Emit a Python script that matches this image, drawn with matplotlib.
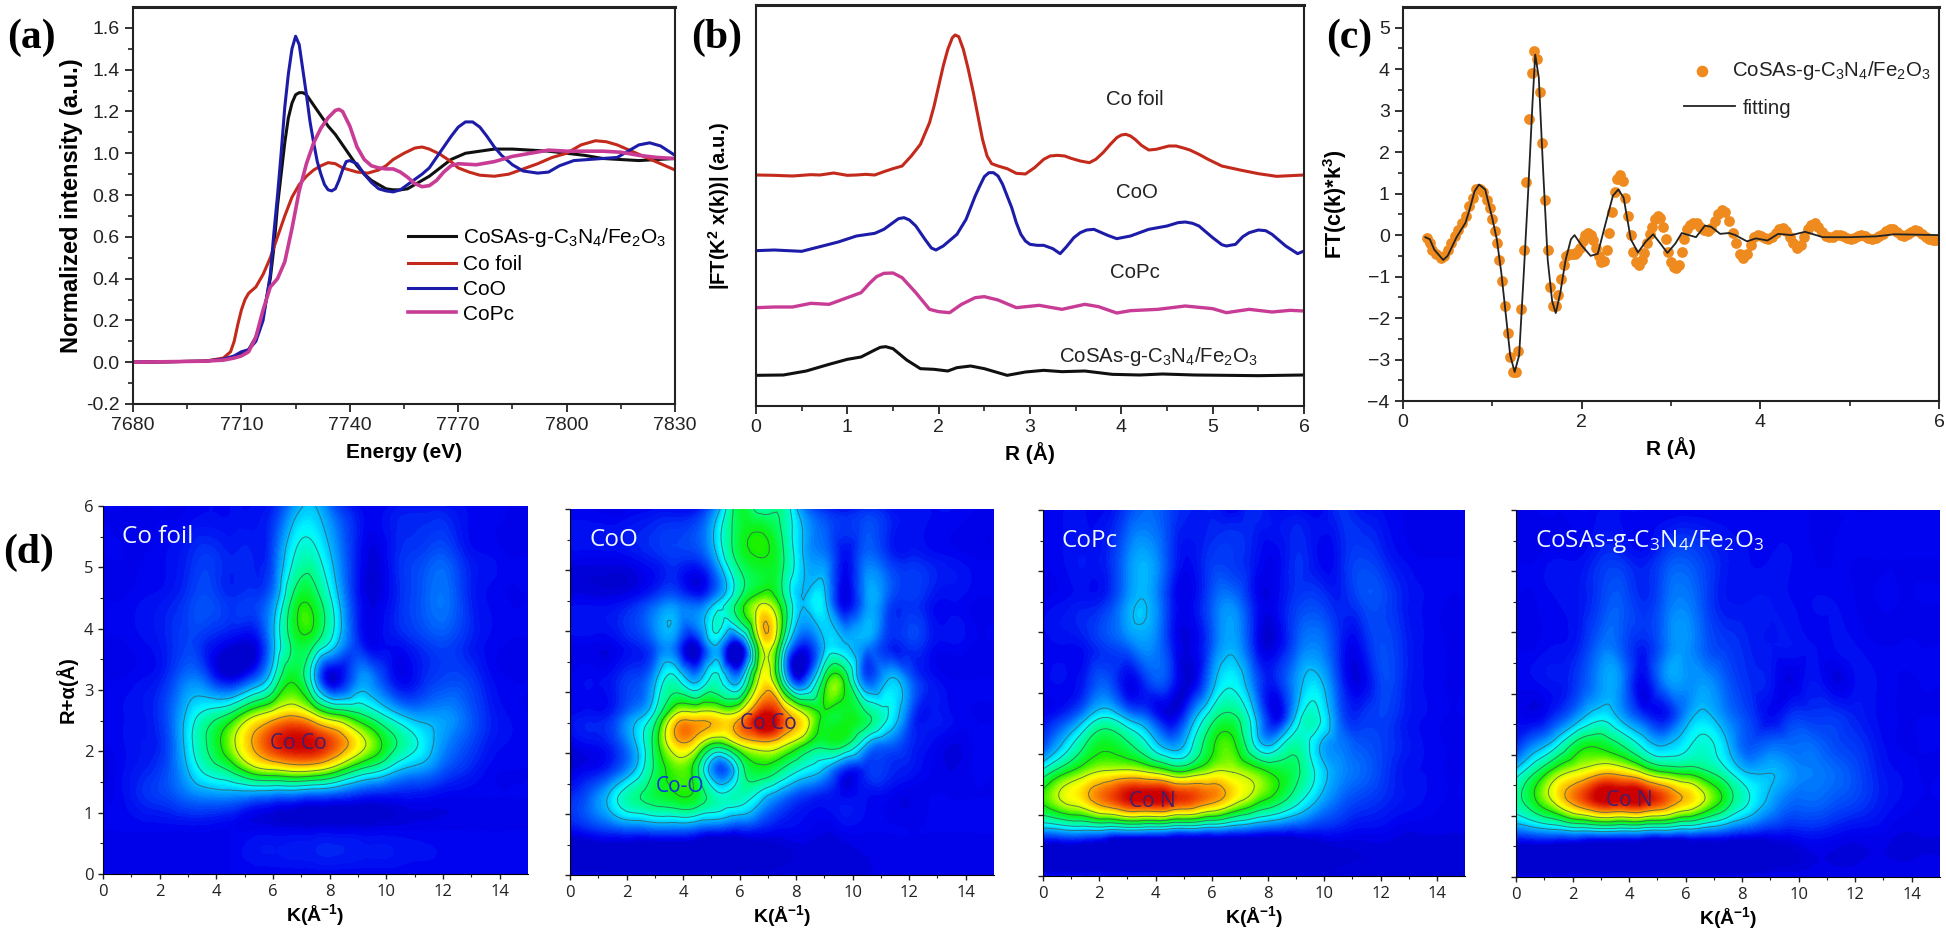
import numpy as np
import matplotlib
matplotlib.use('Agg')
import matplotlib.pyplot as plt
import matplotlib.tri as mtri
from matplotlib.colors import LinearSegmentedColormap

plt.rcParams['font.family'] = ['Liberation Sans', 'DejaVu Sans']
plt.rcParams['mathtext.default'] = 'regular'

SAMPLE = 'CoSAs-g-C$_3$N$_4$/Fe$_2$O$_3$'

# panel a
a_black_x = [7680,7700,7705,7708,7710,7712,7714,7716,7718,7719,7720,7721,7722,7723,7724,7725,7726,7727,7728,7730,7732,7734,7736,7738,7740,7742,7744,7746,7748,7750,7752,7754,7756,7758,7760,7762,7765,7768,7772,7776,7780,7785,7790,7795,7800,7805,7810,7815,7820,7825,7830]
a_black_y = [0,.005,.015,.025,.04,.06,.12,.22,.40,.55,.75,.9,1.05,1.17,1.24,1.28,1.29,1.29,1.28,1.23,1.18,1.13,1.09,1.04,.99,.94,.90,.87,.85,.83,.825,.825,.83,.85,.87,.89,.93,.97,1.0,1.01,1.02,1.02,1.015,1.01,1.0,.99,.975,.97,.965,.97,.975]
a_red_x = [7680,7700,7705,7707,7708,7709,7710,7711,7712,7714,7716,7718,7720,7722,7724,7726,7728,7730,7732,7734,7736,7738,7740,7742,7745,7748,7750,7752,7755,7758,7760,7762,7765,7768,7770,7773,7776,7780,7784,7788,7792,7796,7800,7804,7808,7811,7814,7818,7822,7826,7830]
a_red_y = [0,.005,.02,.05,.10,.18,.25,.30,.33,.36,.42,.50,.60,.70,.79,.85,.89,.92,.94,.955,.95,.93,.92,.91,.905,.92,.94,.97,1.0,1.025,1.03,1.02,.995,.96,.93,.91,.895,.89,.90,.925,.95,.98,1.0,1.04,1.06,1.055,1.04,1.01,.98,.95,.92]
a_blue_x = [7680,7700,7705,7708,7710,7712,7714,7716,7718,7719,7720,7721,7722,7723,7724,7725,7726,7727,7728,7729,7730,7731,7732,7733,7734,7735,7736,7737,7738,7739,7740,7742,7744,7746,7748,7750,7752,7754,7756,7758,7760,7762,7764,7766,7768,7770,7772,7774,7776,7778,7780,7782,7785,7788,7792,7795,7798,7802,7806,7810,7814,7817,7820,7823,7826,7830]
a_blue_y = [0,.005,.015,.03,.05,.06,.10,.20,.42,.62,.80,1.0,1.22,1.38,1.50,1.56,1.52,1.40,1.28,1.15,1.05,.96,.90,.85,.825,.82,.83,.87,.92,.96,.965,.95,.90,.86,.83,.82,.815,.825,.85,.875,.90,.93,.98,1.03,1.08,1.125,1.15,1.15,1.125,1.08,1.03,.99,.945,.915,.905,.91,.94,.965,.97,.975,.98,1.01,1.04,1.05,1.035,.99]
a_pink_x = [7680,7700,7705,7708,7710,7712,7714,7716,7718,7720,7722,7724,7726,7728,7730,7732,7734,7736,7737,7738,7740,7742,7744,7746,7748,7750,7752,7754,7756,7758,7760,7762,7764,7766,7768,7770,7775,7780,7785,7790,7795,7800,7805,7810,7815,7820,7825,7830]
a_pink_y = [0,.005,.01,.02,.03,.05,.12,.25,.36,.40,.48,.64,.82,.95,1.05,1.12,1.17,1.205,1.21,1.20,1.13,1.03,.97,.94,.93,.925,.925,.91,.885,.855,.84,.845,.87,.91,.94,.95,.945,.96,.985,1.0,1.015,1.01,1.01,1.01,1.005,.99,.98,.975]

# panel b (offset curves, arbitrary units)
b_red_x = [0,.2,.4,.6,.7,.85,1.0,1.1,1.2,1.3,1.4,1.5,1.6,1.7,1.8,1.9,1.95,2.0,2.05,2.1,2.15,2.18,2.22,2.27,2.32,2.38,2.43,2.48,2.53,2.58,2.65,2.75,2.85,2.95,3.05,3.15,3.22,3.3,3.38,3.45,3.55,3.65,3.72,3.8,3.88,3.95,4.0,4.05,4.1,4.15,4.22,4.3,4.38,4.45,4.52,4.6,4.68,4.75,4.85,4.95,5.1,5.3,5.5,5.7,6.0]
b_red_y = [6.93,6.92,6.90,6.94,6.93,6.99,6.92,6.93,6.95,6.93,7.03,7.12,7.2,7.5,7.85,8.5,9.0,9.6,10.2,10.7,11.05,11.13,11.08,10.7,10.15,9.4,8.7,8.0,7.5,7.27,7.2,7.12,6.98,6.96,7.15,7.4,7.5,7.52,7.5,7.43,7.35,7.3,7.4,7.6,7.85,8.05,8.13,8.15,8.1,8.0,7.82,7.68,7.7,7.75,7.8,7.8,7.74,7.68,7.55,7.4,7.2,7.08,6.97,6.89,6.93]
b_blue_x = [0,.2,.5,.7,.9,1.1,1.3,1.4,1.5,1.56,1.62,1.68,1.75,1.85,1.92,1.97,2.05,2.2,2.3,2.35,2.4,2.45,2.5,2.55,2.6,2.65,2.7,2.75,2.8,2.85,2.9,2.95,3.0,3.08,3.15,3.25,3.33,3.4,3.48,3.55,3.62,3.7,3.85,3.95,4.1,4.3,4.5,4.62,4.7,4.78,4.85,5.0,5.1,5.15,5.25,5.33,5.4,5.5,5.58,5.65,5.8,5.93,6.0]
b_blue_y = [4.66,4.68,4.64,4.78,4.92,5.1,5.18,5.3,5.5,5.62,5.65,5.58,5.4,5.0,4.74,4.68,4.8,5.15,5.6,5.95,6.3,6.6,6.88,7.0,7.0,6.9,6.65,6.3,5.95,5.5,5.15,4.95,4.85,4.82,4.82,4.72,4.57,4.78,5.05,5.2,5.28,5.3,5.12,5.02,5.1,5.3,5.4,5.5,5.52,5.48,5.4,5.05,4.84,4.8,4.85,5.08,5.2,5.28,5.26,5.15,4.8,4.57,4.65]
b_pink_x = [0,.2,.4,.6,.8,1.0,1.15,1.25,1.32,1.4,1.5,1.6,1.75,1.9,2.0,2.12,2.25,2.4,2.5,2.65,2.85,3.1,3.35,3.6,3.75,3.95,4.1,4.4,4.7,5.0,5.15,5.4,5.65,5.85,6.0]
b_pink_y = [2.95,2.97,2.97,3.08,3.05,3.25,3.4,3.7,3.88,3.98,3.99,3.85,3.4,2.9,2.83,2.8,3.05,3.25,3.28,3.18,2.95,3.02,2.9,3.05,2.98,2.79,2.86,2.9,3.0,2.92,2.8,2.9,2.82,2.87,2.85]
b_black_x = [0,.3,.55,.8,1.0,1.15,1.3,1.36,1.42,1.5,1.65,1.8,1.95,2.1,2.2,2.35,2.5,2.75,2.95,3.15,3.35,3.6,3.9,4.2,4.45,4.8,5.5,6.0]
b_black_y = [.92,.93,1.05,1.25,1.4,1.47,1.68,1.76,1.78,1.72,1.38,1.12,1.1,1.05,1.15,1.2,1.12,.92,1.02,1.07,1.03,1.05,.95,.93,.96,.93,.91,.93]

# panel c
c_dots_x = [.27,.3,.33,.37,.42,.46,.5,.54,.58,.62,.66,.7,.74,.78,.82,.86,.9,.94,.97,1.0,1.03,1.05,1.08,1.11,1.14,1.17,1.2,1.23,1.26,1.29,1.32,1.35,1.38,1.41,1.44,1.47,1.5,1.53,1.56,1.59,1.62,1.65,1.68,1.71,1.74,1.77,1.8,1.83,1.86,1.89,1.92,1.95,1.98,2.01,2.04,2.07,2.1,2.13,2.16,2.19,2.22,2.25,2.28,2.31,2.34,2.37,2.4,2.43,2.46,2.49,2.52,2.55,2.58,2.61,2.64,2.67,2.7,2.73,2.76,2.79,2.82,2.85,2.88,2.91,2.94,2.97,3.0,3.03,3.06,3.09,3.12,3.15,3.18,3.21,3.25,3.29,3.33,3.37,3.41,3.45,3.49,3.53,3.57,3.61,3.65,3.69,3.73,3.77,3.81,3.85,3.89,3.93,3.97,4.01,4.05,4.09,4.13,4.17,4.21,4.25,4.29,4.33,4.37,4.41,4.45,4.49,4.53,4.57,4.61,4.65,4.69,4.73,4.77,4.81,4.85,4.89,4.93,4.97,5.01,5.05,5.09,5.13,5.17,5.21,5.25,5.29,5.33,5.37,5.41,5.45,5.49,5.53,5.57,5.61,5.65,5.69,5.73,5.77,5.81,5.85,5.89,5.93,5.97,6.0]
c_dots_y = [-.08,-.2,-.35,-.45,-.55,-.5,-.35,-.2,-.02,.12,.3,.45,.7,.9,1.1,1.12,1.05,.85,.65,.4,.1,-.2,-.6,-1.1,-1.7,-2.35,-2.95,-3.3,-3.3,-2.8,-1.78,-.35,1.28,2.8,3.92,4.45,4.25,3.45,2.22,.85,-.37,-1.25,-1.7,-1.72,-1.45,-1.05,-.72,-.5,-.45,-.45,-.45,-.4,-.3,-.15,0,.05,0,-.12,-.3,-.5,-.65,-.62,-.35,.05,.55,1.05,1.35,1.45,1.3,.9,.45,0,-.4,-.65,-.72,-.6,-.42,-.2,.02,.2,.38,.45,.42,.2,-.1,-.4,-.65,-.78,-.8,-.72,-.4,-.1,.15,.25,.3,.28,.2,.12,.1,.18,.35,.5,.6,.55,.35,.05,-.2,-.45,-.55,-.45,-.25,-.05,0,-.02,-.08,-.1,-.05,.05,.15,.18,.1,-.05,-.2,-.3,-.25,-.05,.15,.25,.28,.2,.08,-.02,-.05,-.05,0,.0,-.03,-.08,-.1,-.08,-.02,.0,-.02,-.07,-.1,-.08,-.03,.03,.1,.15,.14,.08,.0,-.02,.02,.08,.12,.1,.03,-.05,-.1,-.12,-.12,-.1]
c_fit_x = [.25,.3,.35,.45,.5,.6,.7,.75,.8,.85,.92,1.0,1.05,1.1,1.15,1.2,1.25,1.3,1.35,1.4,1.45,1.48,1.52,1.57,1.62,1.67,1.71,1.76,1.82,1.88,1.92,2.0,2.1,2.18,2.27,2.35,2.41,2.47,2.55,2.63,2.72,2.8,2.88,2.96,3.05,3.12,3.2,3.28,3.38,3.45,3.55,3.65,3.72,3.85,3.95,4.08,4.2,4.35,4.5,4.7,5.0,5.3,5.5,6.0]
c_fit_y = [-.05,-.1,-.35,-.6,-.5,-.05,.3,.65,1.05,1.22,1.1,.4,-.1,-.9,-1.9,-2.9,-3.3,-2.9,-1.0,1.0,3.2,4.35,3.8,1.5,-.6,-1.6,-1.88,-1.4,-.6,-.1,0,-.25,-.5,-.45,.3,.95,1.1,.9,-.1,-.42,-.15,.02,-.2,-.43,-.2,.05,0,-.05,.23,.2,.03,.05,0,-.15,-.08,-.13,.03,0,.08,-.05,-.05,-.03,.02,0]

# panel d, maps read on a coarse k/R grid, rows from R=6 down to R=0
k_grid = [0,.75,1.5,2.25,3,3.75,4.5,5.25,6,6.75,7.5,8.25,9,9.75,10.5,11.25,12,12.75,13.5,14.25,15]
r_grid = [6,5.2,4.5,3.8,3.2,2.6,2.15,1.7,1.25,.7,0]
foil_map = [
    [8,8,8,8,8,9,9,9,11,22,26,14,9,8,10,10,10,9,8,8,8],
    [8,8,8,9,11,13,11,11,15,34,36,22,10,7,12,14,16,11,9,8,8],
    [8,8,9,10,13,15,12,13,20,47,48,28,10,7,12,16,19,13,9,8,8],
    [8,8,9,11,14,11,8,7,24,48,46,28,12,8,10,13,15,12,9,8,8],
    [8,8,9,12,19,14,7,14,33,52,24,6,20,16,8,11,14,14,10,8,8],
    [8,9,10,15,28,38,46,62,72,78,66,54,46,36,26,22,22,18,12,9,8],
    [8,9,10,14,30,46,62,80,94,100,98,88,72,56,42,32,22,16,11,9,8],
    [6,9,11,15,26,38,46,60,66,70,68,58,44,36,26,22,16,12,9,8,8],
    [8,9,12,14,18,20,20,18,16,15,13,12,10,9,9,9,8,8,8,8,8],
    [8,8,8,8,8,8,8,8,8,8,8,8,8,8,8,8,8,8,8,8,8],
    [8,8,8,8,8,8,8,8,8,8,8,8,8,8,8,8,8,8,8,8,8],
]
coo_map = [
    [8,8,7,8,9,9,10,24,50,40,42,20,12,10,12,10,9,9,9,8,8],
    [8,8,8,9,11,13,13,27,48,54,46,26,20,9,18,13,11,10,9,8,8],
    [8,8,8,10,15,18,14,26,46,62,48,26,28,7,22,16,13,10,9,8,8],
    [8,8,8,11,17,18,8,26,8,66,44,12,26,26,22,12,13,10,9,8,8],
    [8,9,10,14,24,36,24,36,24,70,40,12,48,50,16,26,18,10,8,8,8],
    [9,10,12,22,38,70,74,72,76,100,90,70,52,52,46,34,16,10,9,8,8],
    [7,9,12,24,48,76,70,52,68,76,70,56,48,46,26,18,12,9,7,8,8],
    [7,9,14,26,46,58,46,16,36,50,42,32,24,10,12,12,10,8,7,8,8],
    [12,18,30,42,48,52,50,38,38,28,18,12,10,9,9,8,7,8,8,8,8],
    [8,10,12,13,14,14,12,10,9,9,8,8,7,8,8,8,8,8,8,8,8],
    [7,7,7,7,7,7,7,7,7,7,7,7,7,7,7,7,7,7,7,7,7],
]
copc_map = [
    [9,9,9,9,14,18,14,11,11,8,12,9,9,8,12,10,9,8,8,8,8],
    [8,9,10,11,20,24,14,9,13,13,10,8,12,9,10,14,12,9,8,8,8],
    [8,9,10,12,22,25,12,8,16,20,10,8,13,14,11,14,15,11,9,8,8],
    [8,9,10,14,18,22,12,7,16,24,11,7,16,20,12,9,15,12,9,8,8],
    [8,9,11,16,8,14,13,6,22,32,18,11,22,28,14,7,14,12,9,8,8],
    [9,13,24,34,24,16,7,20,40,46,28,8,28,36,18,12,14,11,9,8,8],
    [14,28,44,52,46,34,22,32,52,56,34,28,40,28,20,16,14,11,9,8,8],
    [38,52,62,68,70,66,58,58,66,66,60,52,46,32,22,18,14,10,9,8,8],
    [56,68,76,88,98,100,98,92,84,72,60,50,38,26,18,14,12,10,9,8,8],
    [18,20,20,18,17,16,14,13,12,11,10,9,9,9,9,8,8,7,7,7,7],
    [9,9,9,9,9,9,9,8,8,8,7,7,7,7,7,7,7,7,7,7,7],
]
sample_map = [
    [8,8,8,9,9,9,9,8,8,8,8,8,8,8,8,8,8,8,8,8,8],
    [8,8,9,9,12,12,10,14,16,13,10,9,9,9,8,8,8,8,8,8,8],
    [8,8,9,10,14,16,12,17,20,14,10,10,10,9,9,9,8,8,8,8,8],
    [8,8,9,11,18,16,11,18,22,16,13,11,10,10,9,9,9,8,8,8,8],
    [8,9,10,14,22,20,8,20,22,22,16,12,10,7,10,7,9,9,8,8,8],
    [9,8,14,24,32,24,14,10,22,28,20,14,9,13,13,13,11,9,8,8,8],
    [12,22,34,50,52,44,32,26,32,36,26,16,18,18,18,15,13,10,8,8,8],
    [30,46,62,70,78,76,66,56,52,46,36,26,26,22,20,18,15,11,9,8,8],
    [40,55,72,88,100,100,100,90,78,64,48,34,24,18,18,16,14,11,9,8,8],
    [15,17,18,19,19,18,17,16,15,14,12,10,9,9,10,9,8,8,7,7,7],
    [8,8,8,8,8,8,8,8,8,8,8,8,8,8,8,8,8,8,8,8,8],
]

W, H = 1946, 936
fig = plt.figure(figsize=(W/100, H/100), dpi=100)


def box(l, t, r, b):
    return fig.add_axes([l/W, 1-b/H, (r-l)/W, (b-t)/H])


RED = '#c42a1c'
BLUE = '#1c1ca8'
PINK = '#c83c96'
BLACK = '#101010'

#(a)
ax = box(133, 7, 675, 404)
ax.plot(a_black_x, a_black_y, color=BLACK, lw=2.2, label=SAMPLE)
ax.plot(a_red_x, a_red_y, color=RED, lw=2.2, label='Co foil')
ax.plot(a_blue_x, a_blue_y, color=BLUE, lw=2.2, label='CoO')
ax.plot(a_pink_x, a_pink_y, color=PINK, lw=2.6, label='CoPc')
ax.set_xlim(7680, 7830)
ax.set_ylim(-0.2, 1.7)
ax.set_xticks(np.arange(7680, 7831, 30))
ax.set_xticks(np.arange(7695, 7830, 30), minor=True)
ax.set_yticks(np.arange(-0.2, 1.61, 0.2))
ax.set_yticks(np.arange(-0.1, 1.7, 0.2), minor=True)
ax.set_yticklabels(['-0.2', '0.0', '0.2', '0.4', '0.6', '0.8', '1.0', '1.2', '1.4', '1.6'])
ax.set_xlabel('Energy (eV)', fontweight='bold', fontsize=15, labelpad=6)
ax.set_ylabel('Normalized intensity (a.u.)', fontweight='bold', fontsize=17, labelpad=2)
ax.legend(loc='upper left', bbox_to_anchor=(0.507, 0.448), frameon=False, fontsize=15,
          handlelength=2.3, labelspacing=0.28, handletextpad=0.35, borderpad=0, borderaxespad=0)

#(b)
ax = box(756, 5, 1304, 406)
ax.plot(b_red_x, b_red_y, color=RED, lw=2.2)
ax.plot(b_blue_x, b_blue_y, color=BLUE, lw=2.2)
ax.plot(b_pink_x, b_pink_y, color=PINK, lw=2.4)
ax.plot(b_black_x, b_black_y, color=BLACK, lw=2.2)
ax.set_xlim(0, 6)
ax.set_ylim(0, 12.03)
ax.set_yticks([])
ax.set_xticks(range(7))
ax.set_xticks(np.arange(0.5, 6, 1), minor=True)
ax.set_xlabel('R (Å)', fontweight='bold', fontsize=15, labelpad=4)
ax.set_ylabel('|FT(K$^2$ x(k))| (a.u.)', fontweight='bold', fontsize=14.5, labelpad=17)
ax.text(4.15, 9.2, 'Co foil', fontsize=14.7, ha='center', va='center', color='#222')
ax.text(4.17, 6.4, 'CoO', fontsize=14.7, ha='center', va='center', color='#222')
ax.text(4.15, 4.0, 'CoPc', fontsize=14.7, ha='center', va='center', color='#222')
ax.text(4.4, 1.5, SAMPLE, fontsize=14.7, ha='center', va='center', color='#222')

#(c)
ax = box(1403, 7, 1939, 401)
ax.scatter(c_dots_x, c_dots_y, s=60, color='#ee8a1e', linewidths=0)
ax.plot(c_fit_x, c_fit_y, color='#222222', lw=1.3)
ax.set_xlim(0, 6)
ax.set_ylim(-4, 5.5)
ax.set_xticks([0, 2, 4, 6])
ax.set_xticks([1, 3, 5], minor=True)
ax.set_yticks(range(-4, 6))
ax.set_yticks(np.arange(-3.5, 5.5, 1), minor=True)
ax.set_xlabel('R (Å)', fontweight='bold', fontsize=15, labelpad=4)
ax.set_ylabel('FT(c(k)*k$^3$)', fontweight='bold', fontsize=15.5, labelpad=13)
ax.scatter([3.35], [3.96], s=70, color='#ee8a1e', linewidths=0)
ax.plot([3.15, 3.72], [3.12, 3.12], color='#222222', lw=1.3)
ax.text(3.68, 3.96, SAMPLE, fontsize=14.7, va='center', color='#222')
ax.text(3.8, 3.06, 'fitting', fontsize=14.7, va='center', color='#222')

for ax in fig.axes:
    for s in ax.spines.values():
        s.set_linewidth(1.5)
        s.set_color('#222222')
    ax.tick_params(which='major', direction='out', length=6, width=1.3, labelsize=14, colors='#222222')
    ax.tick_params(which='minor', direction='out', length=3.5, width=1.2, colors='#222222')
    ax.spines['top'].set_linewidth(2.2)

# (d) maps
jetlike = LinearSegmentedColormap.from_list('jetlike', [
    (0.00, '#000090'), (0.05, '#0000c8'), (0.08, '#0000f0'), (0.20, '#0080ff'),
    (0.32, '#00f8ff'), (0.45, '#00ff70'), (0.55, '#10f000'), (0.65, '#b8ff00'),
    (0.72, '#ffff00'), (0.82, '#ffa000'), (0.92, '#f04000'), (1.00, '#cc0000')])

kk, rr = np.meshgrid(k_grid, r_grid)
tri = mtri.Triangulation(kk.ravel(), rr.ravel())
refiner = mtri.UniformTriRefiner(tri)

d_boxes = [(103, 506, 528, 874), (570, 509, 994, 875), (1043, 510, 1465, 876), (1516, 510, 1940, 877)]
d_maps = [foil_map, coo_map, copc_map, sample_map]
d_titles = ['Co foil', 'CoO', 'CoPc', 'CoSAs-g-C$_3$N$_4$/Fe$_2$O$_3$']
d_notes = [[('Co Co', 6.9, 2.13, '#40206a')],
           [('Co Co', 7.0, 2.48, '#40206a'), ('Co-O', 3.9, 1.45, '#1030e0')],
           [('Co N', 3.9, 1.22, '#40206a')],
           [('Co N', 4.0, 1.25, '#40206a')]]
levels = np.linspace(0, 104, 105)

for i in range(4):
    ax = box(*d_boxes[i])
    z = np.array(d_maps[i], dtype=float).ravel()
    tri_fine, z_fine = refiner.refine_field(z, subdiv=3)
    z_fine = np.clip(z_fine, 5, 102)
    ax.tricontourf(tri_fine, z_fine, levels=levels, cmap=jetlike, vmin=0, vmax=100)
    ax.tricontour(tri_fine, z_fine, levels=[26, 34, 44, 54, 66, 80], colors='#3c5a5a', linewidths=0.7, alpha=0.75)
    ax.set_xlim(0, 15)
    ax.set_ylim(0, 6)
    ax.set_xticks(range(0, 15, 2))
    ax.set_xticks(range(1, 15, 2), minor=True)
    ax.set_yticks(range(0, 7))
    ax.set_yticks(np.arange(0.5, 6, 1), minor=True)
    for s in ['top', 'right']:
        ax.spines[s].set_visible(False)
    for s in ['left', 'bottom']:
        ax.spines[s].set_linewidth(0.8)
    ax.tick_params(which='major', direction='out', length=3.5, width=1, labelsize=12, colors='#222222', labelfontfamily='Open Sans')
    ax.tick_params(which='minor', direction='out', length=2, width=0.8, colors='#222222')
    if i > 0:
        ax.set_yticklabels([])
    else:
        ax.set_ylabel('R+α(Å)', fontweight='bold', fontsize=14.5, labelpad=4)
    ax.set_xlabel('K(Å$^{-1}$)', fontweight='bold', fontsize=14, labelpad=2)
    ax.text(0.045, 0.915, d_titles[i], transform=ax.transAxes, color='#f0f8ff', fontsize=17.5,
            family='Open Sans', va='center')
    for note, nx, ny, c in d_notes[i]:
        ax.text(nx, ny, note, color=c, fontsize=15, family='Open Sans', ha='center', va='center')

for t, x, y in [('(a)', 7, 38), ('(b)', 691, 38), ('(c)', 1326, 38), ('(d)', 3, 553)]:
    fig.text(x/W, 1-y/H, t, family='Liberation Serif', fontweight='bold', fontsize=30, va='center')

fig.savefig('out.png', dpi=100)
